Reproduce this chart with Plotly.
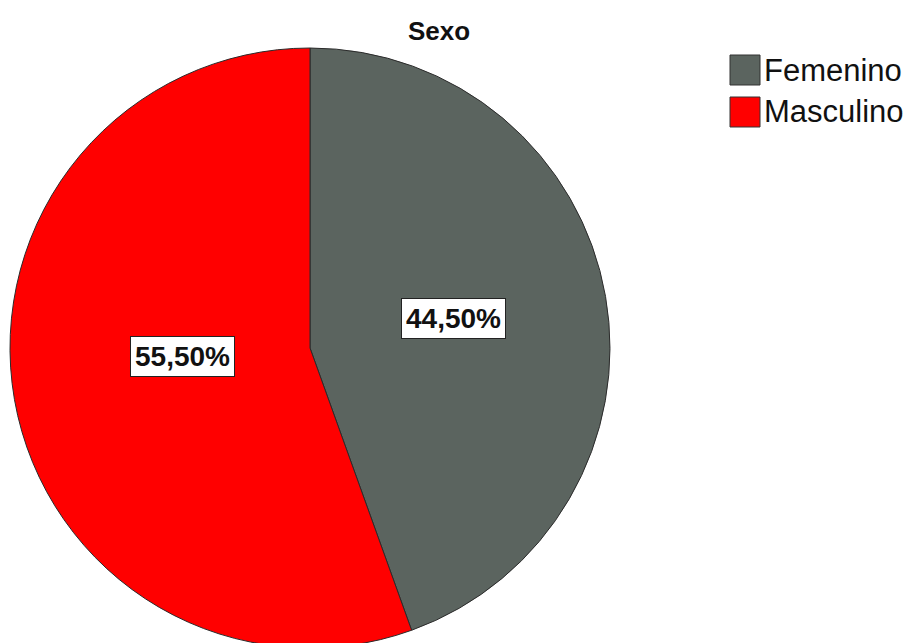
import math
import plotly.graph_objects as go

# Data
categories = ["Femenino", "Masculino"]
values = [44.5, 55.5]
text_labels = ["44,50%", "55,50%"]
colors = ["#5b645f", "#ff0000"]
title_text = "Sexo"

W, H = 912, 660
CX, CY, R = 310, 348, 300  # pie centre / radius in pixels


def px(x):
    return x / W


def py(y):
    return 1 - y / H


fig = go.Figure()
fig.add_trace(go.Pie(
    labels=categories,
    values=values,
    sort=False,
    direction="clockwise",
    rotation=0,
    marker=dict(colors=colors, line=dict(color="#2b2b2b", width=1)),
    textinfo="none",
    hoverinfo="label+percent",
    domain=dict(x=[px(CX - R), px(CX + R)], y=[py(CY + R), py(CY - R)]),
    showlegend=False,
))

# percentage labels in boxes, placed at slice mid-angles
total = sum(values)
cum = 0.0
frac = [0.487, 0.43]
yoff = [-4, -14]
for i, v in enumerate(values):
    mid = (cum + v / 2) / total * 2 * math.pi
    cum += v
    x = CX + frac[i] * R * math.sin(mid)
    y = CY - frac[i] * R * math.cos(mid) + yoff[i]
    fig.add_annotation(
        x=px(x), y=py(y), xref="paper", yref="paper",
        text="<b>%s</b>" % text_labels[i], showarrow=False,
        font=dict(family="Arial, Liberation Sans", size=28, color="#111111"),
        bgcolor="white", bordercolor="#222222", borderwidth=1, borderpad=4,
        xanchor="center", yanchor="middle",
    )

# manual legend with large square swatches
for i, (cat, col) in enumerate(zip(categories, colors)):
    top = 55 + i * 42
    fig.add_shape(type="rect", xref="paper", yref="paper",
                  x0=px(730), x1=px(760), y0=py(top + 30), y1=py(top),
                  fillcolor=col, line=dict(color="#333333", width=1))
    fig.add_annotation(x=px(762), y=py(top + 15), xref="paper", yref="paper",
                       text=cat, showarrow=False, xanchor="left", yanchor="middle",
                       font=dict(family="Arial, Liberation Sans", size=31, color="#111111"))

fig.update_layout(
    width=W, height=H,
    margin=dict(l=0, r=0, t=0, b=0),
    paper_bgcolor="white", plot_bgcolor="white",
    title=dict(text="<b>%s</b>" % title_text, x=px(439), y=py(31),
               xanchor="center", yanchor="middle", xref="paper", yref="paper",
               font=dict(family="Arial, Liberation Sans", size=26, color="#111111")),
)

fig.write_html(
    "out.html",
    post_script="document.body.style.overflow='hidden';document.documentElement.style.overflow='hidden';document.body.style.margin='0';",
)
